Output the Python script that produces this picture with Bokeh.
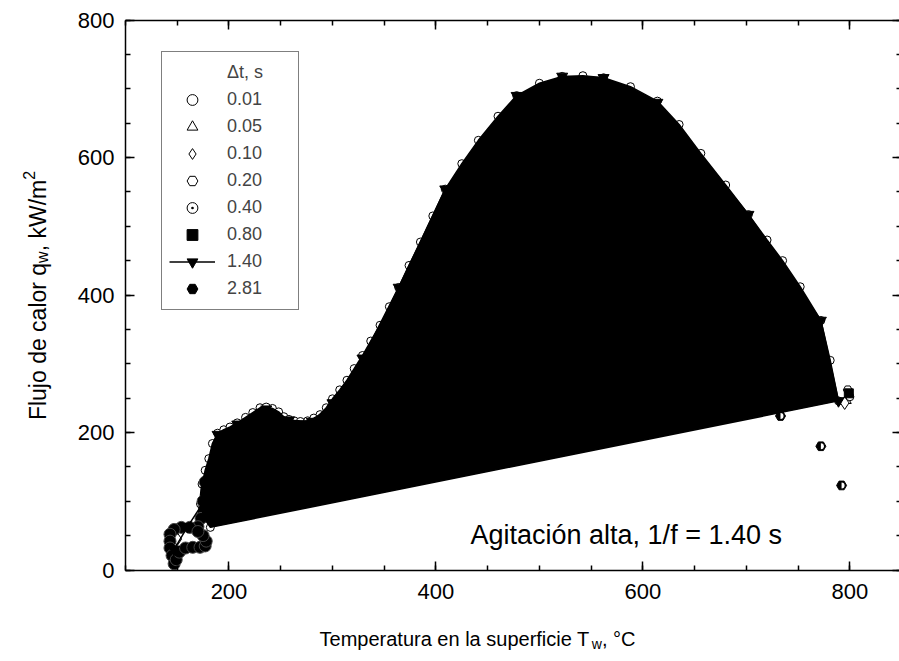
import math
from bokeh.plotting import figure
from bokeh.models import Range1d, LinearAxis, Label, Legend, LegendItem, FixedTicker
from bokeh.embed import file_html
from bokeh.resources import INLINE

FONT = "Liberation Sans"

# ---------------- data ----------------
x_ticks = [200, 400, 600, 800]
y_ticks = [0, 200, 400, 600, 800]
legend_title = "\u0394t, s"
series_labels = ["0.01", "0.05", "0.10", "0.20", "0.40", "0.80", "1.40", "2.81"]

# dt = 0.01 s : dense cooling curve (outlines the filled region)
tw_001 = [182, 176, 172.5, 174, 177, 180.5, 184, 189, 195, 201, 208, 216, 223, 230, 236, 242,
          248, 253, 258, 263, 269, 276, 282, 288, 294, 300, 307, 314, 321, 329, 337, 346, 355,
          364, 374, 385, 397, 409, 425, 441, 460, 478, 500, 522, 542, 562, 588, 614, 635, 656,
          680, 702, 720, 735, 752, 772, 781, 789]
q_001 = [62, 75, 96, 125, 145, 162, 184, 199, 204, 208, 214, 222, 229, 236, 237, 235,
         230, 223, 219, 217, 216, 217, 221, 226, 236, 249, 262, 276, 293, 312, 333, 356, 383,
         411, 443, 477, 515, 554, 591, 625, 660, 690, 708, 718, 719, 716, 703, 682, 648, 606,
         560, 517, 480, 450, 412, 363, 305, 246]

# low-temperature end of the cooling (all series overlapping)
tw_low = [177, 175, 173, 170, 162, 154, 147, 143, 143, 143, 145, 147, 149, 152, 158, 165,
          172, 177, 178, 175, 170]
q_low = [128, 100, 75, 63, 62, 62, 59, 52, 42, 32, 21, 9, 15, 26, 32, 33,
         33, 35, 42, 50, 56]

tw_005, q_005 = [797, 160], [246, 30]
tw_010, q_010 = [795, 150], [243, 45]
tw_020, q_020 = [798, 165], [262, 60]
tw_040, q_040 = [800, 145], [252, 20]
tw_080, q_080 = [799, 175], [257, 35]

# dt = 1.40 s : line with filled inverted triangles
tw_140 = [789, 772, 702, 614, 562, 522, 478, 409, 364, 329, 300, 280, 258, 236, 208, 189, 176, 160, 147]
q_140 = [246, 363, 517, 680, 716, 718, 690, 554, 411, 308, 243, 216, 218, 234, 212, 197, 100, 63, 30]

# dt = 2.81 s
tw_281 = [733, 772, 792]
q_281 = [224, 180, 123]

annotation = "Agitaci\u00f3n alta, 1/f = 1.40 s"

# ---------------- layout (pixel geometry of the page) ----------------
W, H = 899, 661
PX_LEFT, PX_BOTTOM = 125, 569.5     # canvas position of (100, 0)
KX, KY = 1.0348, 0.6875             # pixels per data unit

p = figure(width=W, height=H, output_backend="svg", toolbar_location=None,
           x_range=Range1d(100 - PX_LEFT / KX, 100 + (W - PX_LEFT) / KX),
           y_range=Range1d(-(H - PX_BOTTOM) / KY, PX_BOTTOM / KY),
           min_border=0, min_border_left=0, min_border_right=0,
           min_border_top=0, min_border_bottom=0)
p.grid.visible = False
p.outline_line_color = None
p.background_fill_color = "white"
p.border_fill_color = "white"

p.add_layout(LinearAxis(), "above")
p.add_layout(LinearAxis(), "right")

xt = FixedTicker(ticks=x_ticks, minor_ticks=list(range(100, 851, 50)))
yt = FixedTicker(ticks=y_ticks, minor_ticks=list(range(0, 801, 50)))

for ax in p.xaxis:
    ax.ticker = xt
    ax.bounds = (100, 850)
for ax in p.yaxis:
    ax.ticker = yt
    ax.bounds = (0, 800)

p.below[0].fixed_location = 0
p.above[0].fixed_location = 800
p.left[0].fixed_location = 100
p.right[0].fixed_location = 850

for ax in list(p.xaxis) + list(p.yaxis):
    ax.axis_line_width = 1.5
    ax.axis_line_color = "black"
    ax.major_tick_in = 9
    ax.major_tick_out = 0
    ax.minor_tick_in = 5
    ax.minor_tick_out = 0
    ax.major_tick_line_width = 1.5
    ax.minor_tick_line_width = 1.5
    ax.major_tick_line_color = "black"
    ax.minor_tick_line_color = "black"
    ax.major_label_text_font = FONT
    ax.major_label_text_font_size = "22px"
    ax.major_label_text_color = "black"
    ax.major_label_standoff = 11

p.below[0].major_label_standoff = 14

for ax in p.above + p.right:
    ax.major_label_text_color = None

# ---------------- glyphs ----------------
r001 = p.scatter(tw_001, q_001, marker="circle", size=8, fill_color="white", line_color="black", line_width=1)
r005 = p.scatter(tw_005, q_005, marker="triangle", size=9, fill_color="white", line_color="black", line_width=1)
r010 = p.scatter(tw_010, q_010, marker="diamond", size=13, fill_color="white", line_color="black", line_width=1)
r020 = p.scatter(tw_020, q_020, marker="hex", size=9, fill_color="white", line_color="black", line_width=1)
r040 = p.scatter(tw_040, q_040, marker="circle_dot", size=8, fill_color="white", line_color="black", line_width=1)
r080 = p.scatter(tw_080, q_080, marker="square", size=9, fill_color="black", line_color="black", line_width=1)

# low temperature blob
p.line(tw_low, q_low, line_color="black", line_width=8, line_join="round", line_cap="round")
p.scatter(tw_low, q_low, marker="circle", size=12, fill_color="black", line_color="#444444", line_width=1)

# filled region bounded by the 0.01 s curve
p.patch(tw_001, q_001, fill_color="black", line_color="black", line_width=1.5)

r140l = p.line(tw_140, q_140, line_color="black", line_width=1.5)
r140s = p.scatter(tw_140, q_140, marker="inverted_triangle", size=11, fill_color="black", line_color="black")

r281 = p.scatter(tw_281, q_281, marker="hex", size=10, fill_color="black", line_color="black")
p.wedge(tw_281, q_281, radius=3, radius_units="screen", start_angle=-math.pi / 2, end_angle=math.pi / 2,
        fill_color="white", line_color=None)

# header row of the legend (no glyph)
r_head = p.scatter(x=[], y=[], marker="circle", size=0, fill_alpha=0, line_alpha=0)

# ---------------- legend ----------------
rends = [[r001], [r005], [r010], [r020], [r040], [r080], [r140l, r140s], [r281]]
items = [LegendItem(label=legend_title, renderers=[r_head])]
items += [LegendItem(label=lab, renderers=rr) for lab, rr in zip(series_labels, rends)]
legend = Legend(items=items, location=(161, H - 310),
                label_text_font=FONT, label_text_font_size="18px",
                glyph_width=46, glyph_height=27, label_height=27, label_width=64,
                label_standoff=12, spacing=0, padding=7, margin=0,
                border_line_color="black", border_line_width=1,
                background_fill_color="white", background_fill_alpha=1.0)
p.add_layout(legend)

# ---------------- texts ----------------
AW = {' ': 278, 'F': 611, 'l': 222, 'u': 556, 'j': 222, 'o': 556, 'd': 556, 'e': 556, 'c': 500,
      'a': 556, 'r': 333, 'q': 556, 'w': 722, ',': 278, 'k': 500, 'W': 944, '/': 278, 'm': 833,
      'T': 611, 'p': 556, 't': 278, 'n': 556, 's': 500, 'f': 278, 'i': 222, '\u00b0': 400,
      'C': 722, '2': 556}


def twidth(s, size):
    return sum(AW.get(ch, 556) for ch in s) * size / 1000.0


def lab(text, x, y, size, angle=0.0):
    # x from canvas left, y from canvas bottom (the frame fills the canvas)
    p.add_layout(Label(x=x, y=y, x_units="screen", y_units="screen", text=text,
                       text_font=FONT, text_font_size=f"{size}px", text_color="black",
                       angle=angle, text_align="left", text_baseline="alphabetic"))


# x axis label: Temperatura en la superficie T_w, °C
F, S = 20, 14
t1, t2 = "Temperatura en la superficie T", ", \u00b0C"
total = twidth(t1, F) + twidth("w", S) + twidth(t2, F)
x0 = 477 - total / 2
yb = H - 638
lab(t1, x0, yb, F)
x1 = x0 + twidth(t1, F)
lab("w", x1, yb - 5, S)
x2 = x1 + twidth("w", S)
lab(t2, x2, yb, F)

# y axis label: Flujo de calor q_w, kW/m^2 (rotated)
F, S = 23, 16
u1, u2 = "Flujo de calor q", ", kW/m"
total = twidth(u1, F) + twidth("w", S) + twidth(u2, F) + twidth("2", S)
bx = 37
yy = H - (295 + total / 2)
lab(u1, bx, yy, F, math.pi / 2)
yy += twidth(u1, F)
lab("w", bx + 5, yy, S, math.pi / 2)
yy += twidth("w", S)
lab(u2, bx, yy, F, math.pi / 2)
yy += twidth(u2, F)
lab("2", bx - 9, yy, S, math.pi / 2)

# annotation
lab(annotation, 470, H - 534, 27)

open("out.html", "w").write(file_html(p, INLINE))
